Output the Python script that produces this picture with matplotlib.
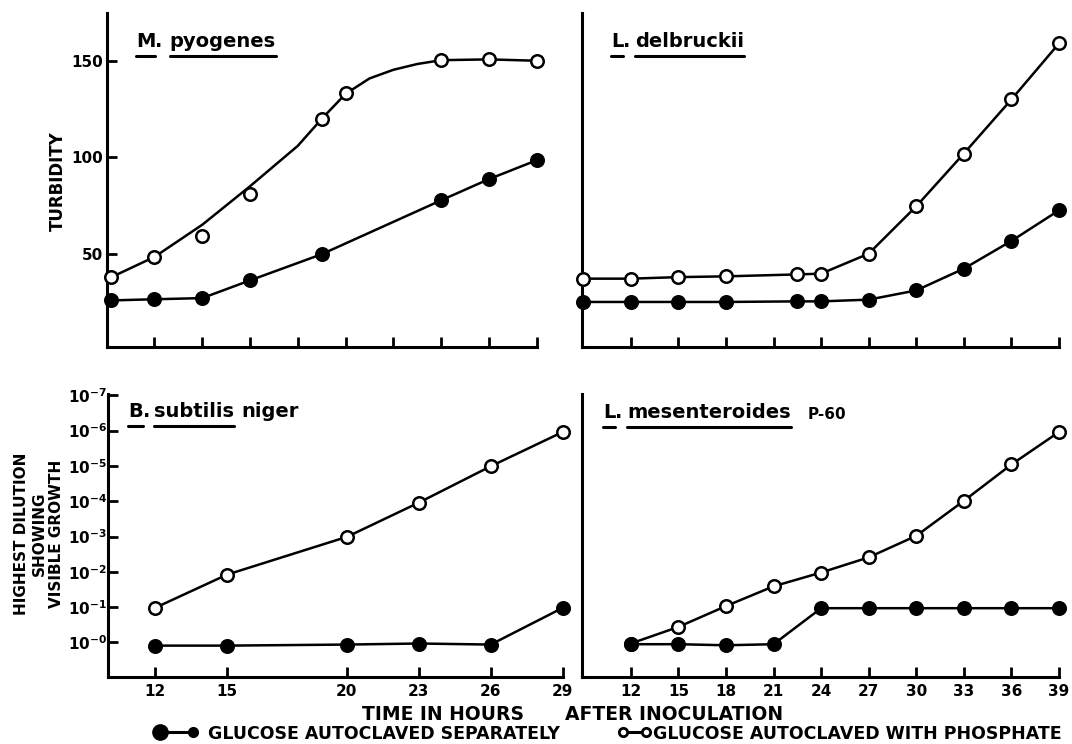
import matplotlib.pyplot as plt
from matplotlib.lines import Line2D

plt.rcParams['font.family'] = ['DejaVu Sans']
plt.rcParams['font.weight'] = 'bold'
plt.rcParams['mathtext.fontset'] = 'dejavusans'
plt.rcParams['mathtext.default'] = 'bf'

# M. pyogenes, turbidity
pyo_t_open = [10.2, 12, 14, 16, 19, 20, 24, 26, 28]
pyo_open = [37.8, 48.3, 59.0, 81.2, 119.9, 133.2, 150.5, 150.9, 150.2]
pyo_t_fill = [10.2, 12, 14, 16, 19, 24, 26, 28]
pyo_fill = [25.7, 26.3, 26.9, 36.1, 49.7, 77.7, 88.7, 98.5]
# hand drawn curve through the open points
pyo_curve_t = [10.2, 12, 14, 16, 18, 19, 20, 21, 22, 23, 24, 26, 28]
pyo_curve = [37.8, 48.3, 65, 85, 106, 120, 133, 141, 145.5, 148.5, 150.5, 150.9, 150.2]

# L. delbruckii, turbidity
del_t = [9, 12, 15, 18, 22.5, 24, 27, 30, 33, 36, 39]
del_open = [37.0, 37.0, 37.8, 38.2, 39.2, 39.6, 50.0, 74.6, 102.0, 130.1, 159.2]
del_fill = [24.9, 24.9, 24.9, 24.9, 25.2, 25.2, 26.1, 30.9, 42.2, 56.6, 72.5]

# B. subtilis niger, dilution exponent
sub_t = [12, 15, 20, 23, 26, 29]
sub_open = [0.98, 1.92, 2.99, 3.96, 4.99, 5.96]
sub_fill = [-0.09, -0.09, -0.06, -0.03, -0.06, 0.98]

# L. mesenteroides P-60, dilution exponent
mes_t = [12, 15, 18, 21, 24, 27, 30, 33, 36, 39]
mes_open = [-0.03, 0.44, 1.03, 1.59, 1.98, 2.41, 3.02, 4.01, 5.04, 5.96]
mes_fill = [-0.05, -0.05, -0.08, -0.05, 0.97, 0.97, 0.97, 0.97, 0.97, 0.97]

turb_ticks = [50, 100, 150]
dil_ticks = list(range(8))
dil_labels = [r'$10^{-%d}$' % k for k in dil_ticks]
tl_xticks = [12, 14, 16, 18, 20, 22, 24, 26, 28]
left_xticks = [12, 15, 20, 23, 26, 29]
right_xticks = [12, 15, 18, 21, 24, 27, 30, 33, 36, 39]

W, H = 1072, 744
LW = 1.8

fig = plt.figure(figsize=(W / 100, H / 100), dpi=100)


def fx(px):
    return px / W


def fy(py):
    return 1 - py / H


def add_panel(left, top, right, bottom):
    ax = fig.add_axes([fx(left), fy(bottom), (right - left) / W, (bottom - top) / H])
    ax.patch.set_alpha(0)
    for side in ('top', 'right'):
        ax.spines[side].set_visible(False)
    for side in ('left', 'bottom'):
        ax.spines[side].set_linewidth(2.2)
        ax.spines[side].set_capstyle('projecting')
    ax.tick_params(direction='in', length=7, width=2, labelsize=11)
    ax.tick_params(axis='x', pad=5)
    ax.tick_params(axis='y', pad=2.5)
    return ax


def draw_series(ax, t, v, filled, line=True):
    ax.plot(t, v, '-o' if line else 'o', color='black', lw=LW, ms=9,
            mfc='black' if filled else 'white', mec='black', mew=1.8,
            clip_on=False, zorder=3)


underlined = []


def species(ax, x, y, parts):
    # parts: (text, underline, fontsize, gap in points before it)
    prev = None
    for text, under, fs, gap in parts:
        if prev is None:
            t = ax.text(fx(x), fy(y), text, transform=fig.transFigure,
                        fontsize=fs, va='baseline', ha='left')
        else:
            t = ax.annotate(text, xy=(1, 0), xycoords=prev, xytext=(gap, 0),
                            textcoords='offset points', va='bottom', ha='left',
                            fontsize=fs, annotation_clip=False)
        if under:
            underlined.append(t)
        prev = t


# top left: M. pyogenes
ax1 = add_panel(106.7, 13, 536.7, 347)
ax1.plot(pyo_curve_t, pyo_curve, color='black', lw=LW, clip_on=False, zorder=2)
draw_series(ax1, pyo_t_open, pyo_open, False, line=False)
draw_series(ax1, pyo_t_fill, pyo_fill, True)
ax1.set_xlim(10, 28)
ax1.set_ylim(1.5, 175)
ax1.set_xticks(tl_xticks)
ax1.set_xticklabels([])
ax1.set_yticks(turb_ticks)
species(ax1, 136, 47, [('M', True, 14, 0), ('.', False, 14, 0), ('pyogenes', True, 14, 5)])

# top right: L. delbruckii
ax2 = add_panel(581.7, 13, 1059, 347)
draw_series(ax2, del_t, del_open, False)
draw_series(ax2, del_t, del_fill, True)
ax2.set_xlim(8.9, 39)
ax2.set_ylim(1.5, 175)
ax2.set_xticks(right_xticks)
ax2.set_xticklabels([])
ax2.set_yticks([])
species(ax2, 611, 47, [('L', True, 14, 0), ('.', False, 14, 0), ('delbruckii', True, 14, 3)])

# bottom left: B. subtilis niger
ax3 = add_panel(108.3, 393.5, 562.7, 676.7)
draw_series(ax3, sub_t, sub_open, False)
draw_series(ax3, sub_t, sub_fill, True)
ax3.set_xlim(10.05, 29)
ax3.set_ylim(-0.97, 7.05)
ax3.set_xticks(left_xticks)
ax3.set_yticks(dil_ticks)
ax3.set_yticklabels(dil_labels)
ax3.tick_params(axis='y', pad=1)
species(ax3, 128, 417, [('B', True, 14, 0), ('.', False, 14, 0), ('subtilis', True, 14, 3),
                        ('niger', False, 14, 5)])

# bottom right: L. mesenteroides P-60
ax4 = add_panel(581.7, 393.5, 1059, 676.7)
draw_series(ax4, mes_t, mes_open, False)
draw_series(ax4, mes_t, mes_fill, True)
ax4.set_xlim(8.9, 39)
ax4.set_ylim(-0.97, 7.05)
ax4.set_xticks(right_xticks)
ax4.set_yticks([])
species(ax4, 603, 418, [('L', True, 14, 0), ('.', False, 14, 0), ('mesenteroides', True, 14, 3),
                        ('P-60', False, 11, 12)])

# axis titles
fig.text(fx(58), fy(181), 'TURBIDITY', rotation=90, fontsize=12, ha='center', va='center')
fig.text(fx(39), fy(534), 'HIGHEST DILUTION\nSHOWING\nVISIBLE GROWTH', rotation=90,
         fontsize=11, ha='center', va='center', multialignment='center', linespacing=1.2)
fig.text(fx(362), fy(712), 'TIME IN HOURS', fontsize=13.5, va='center_baseline')
fig.text(fx(565), fy(712), 'AFTER INOCULATION', fontsize=13.5, va='center_baseline')

# legend at the bottom
ly = fy(732)
fig.add_artist(Line2D([fx(160), fx(193)], [ly, ly], color='black', lw=2.2))
fig.add_artist(Line2D([fx(160)], [ly], marker='o', ms=11, color='black'))
fig.add_artist(Line2D([fx(193)], [ly], marker='o', ms=7, color='black'))
fig.text(fx(208), ly, 'GLUCOSE AUTOCLAVED SEPARATELY', fontsize=12.5, va='center_baseline')
fig.add_artist(Line2D([fx(623), fx(646)], [ly, ly], color='black', lw=2.2))
fig.add_artist(Line2D([fx(623), fx(646)], [ly, ly], ls='none', marker='o', ms=6,
                      mfc='white', mec='black', mew=2))
fig.text(fx(653), ly, 'GLUCOSE AUTOCLAVED WITH PHOSPHATE', fontsize=12.5, va='center_baseline')

# underline the genus / species names
fig.canvas.draw()
for t in underlined:
    bb = t.get_window_extent()
    y = (bb.y0 - 5) / H
    fig.add_artist(Line2D([bb.x0 / W, bb.x1 / W], [y, y], color='black', lw=2.2,
                          solid_capstyle='round'))

fig.savefig('out.png', dpi=100)
